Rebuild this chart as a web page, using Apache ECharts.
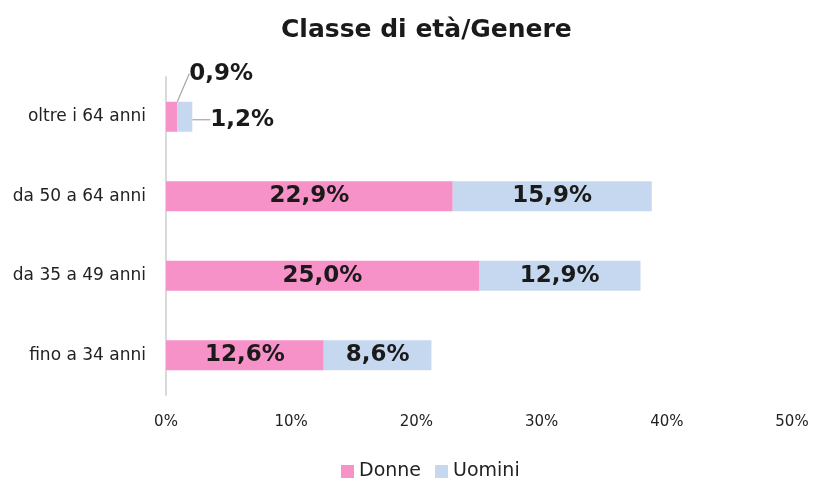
<!DOCTYPE html>
<html>
<head>
<meta charset="utf-8">
<script src="https://cdn.jsdelivr.net/npm/echarts@6/dist/echarts.min.js"></script>
<style>
  html, body { margin: 0; padding: 0; background: #ffffff; }
  #chart { width: 816px; height: 481px; }
</style>
</head>
<body>
<div id="chart"></div>
<script>
// Age brackets, bottom to top
const categories = ['fino a 34 anni', 'da 35 a 49 anni', 'da 50 a 64 anni', 'oltre i 64 anni'];
const donne = [12.6, 25.0, 22.9, 0.9];
const uomini = [8.6, 12.9, 15.9, 1.2];
const xTicks = [0, 10, 20, 30, 40, 50];

const fmt = v => v.toFixed(1).replace('.', ',') + '%';

const labelFont = {
  fontFamily: 'DejaVu Sans',
  fontWeight: 'bold',
  fontSize: 23,
  color: '#1a1a1a'
};

// Bars too short to hold their value get the label outside, with a leader line
function buildData(values) {
  return values.map(v => {
    if (v >= 5) return v;
    return {
      value: v,
      label: { position: 'right', distance: 5 },
      labelLine: { show: true, lineStyle: { color: '#a6a6a6', width: 1.2 } }
    };
  });
}

function shiftSmall(offset) {
  return params => {
    const series = params.seriesIndex === 0 ? donne : uomini;
    return series[params.dataIndex] < 5 ? offset : {};
  };
}

const chart = echarts.init(document.getElementById('chart'), null, { renderer: 'canvas' });

chart.setOption({
  backgroundColor: '#ffffff',
  animation: false,
  title: {
    text: 'Classe di età/Genere',
    left: 276,
    top: 13,
    textStyle: { fontFamily: 'DejaVu Sans', fontWeight: 'bold', fontSize: 25, color: '#1a1a1a' }
  },
  legend: {
    bottom: -5,
    left: 336,
    itemWidth: 13,
    itemHeight: 13,
    itemGap: 14,
    icon: 'rect',
    textStyle: { fontFamily: 'DejaVu Sans', fontSize: 19, color: '#222' },
    data: ['Donne', 'Uomini']
  },
  grid: { left: 166, right: 24, top: 77, bottom: 86, containLabel: false },
  xAxis: {
    type: 'value',
    min: xTicks[0],
    max: xTicks[xTicks.length - 1],
    interval: xTicks[1] - xTicks[0],
    axisLine: { show: false },
    axisTick: { show: false },
    splitLine: { show: false },
    axisLabel: {
      formatter: '{value}%',
      margin: 20,
      fontFamily: 'DejaVu Sans',
      fontSize: 15,
      color: '#222'
    }
  },
  yAxis: {
    type: 'category',
    data: categories,
    axisLine: { show: true, lineStyle: { color: '#d9d9d9', width: 2 } },
    axisTick: { show: false },
    axisLabel: {
      margin: 20,
      fontFamily: 'DejaVu Sans',
      fontSize: 17,
      color: '#222'
    }
  },
  series: [
    {
      name: 'Donne',
      type: 'bar',
      stack: 'tot',
      barWidth: 30,
      itemStyle: { color: '#f792c8' },
      label: Object.assign({ show: true, position: 'inside', formatter: p => fmt(p.value) }, labelFont),
      labelLayout: shiftSmall({ dx: 7, dy: -43 }),
      data: buildData(donne)
    },
    {
      name: 'Uomini',
      type: 'bar',
      stack: 'tot',
      barWidth: 30,
      itemStyle: { color: '#c6d8ef' },
      label: Object.assign({ show: true, position: 'inside', formatter: p => fmt(p.value) }, labelFont),
      labelLayout: shiftSmall({ dx: 13, dy: 3 }),
      data: buildData(uomini)
    }
  ]
});
</script>
</body>
</html>
